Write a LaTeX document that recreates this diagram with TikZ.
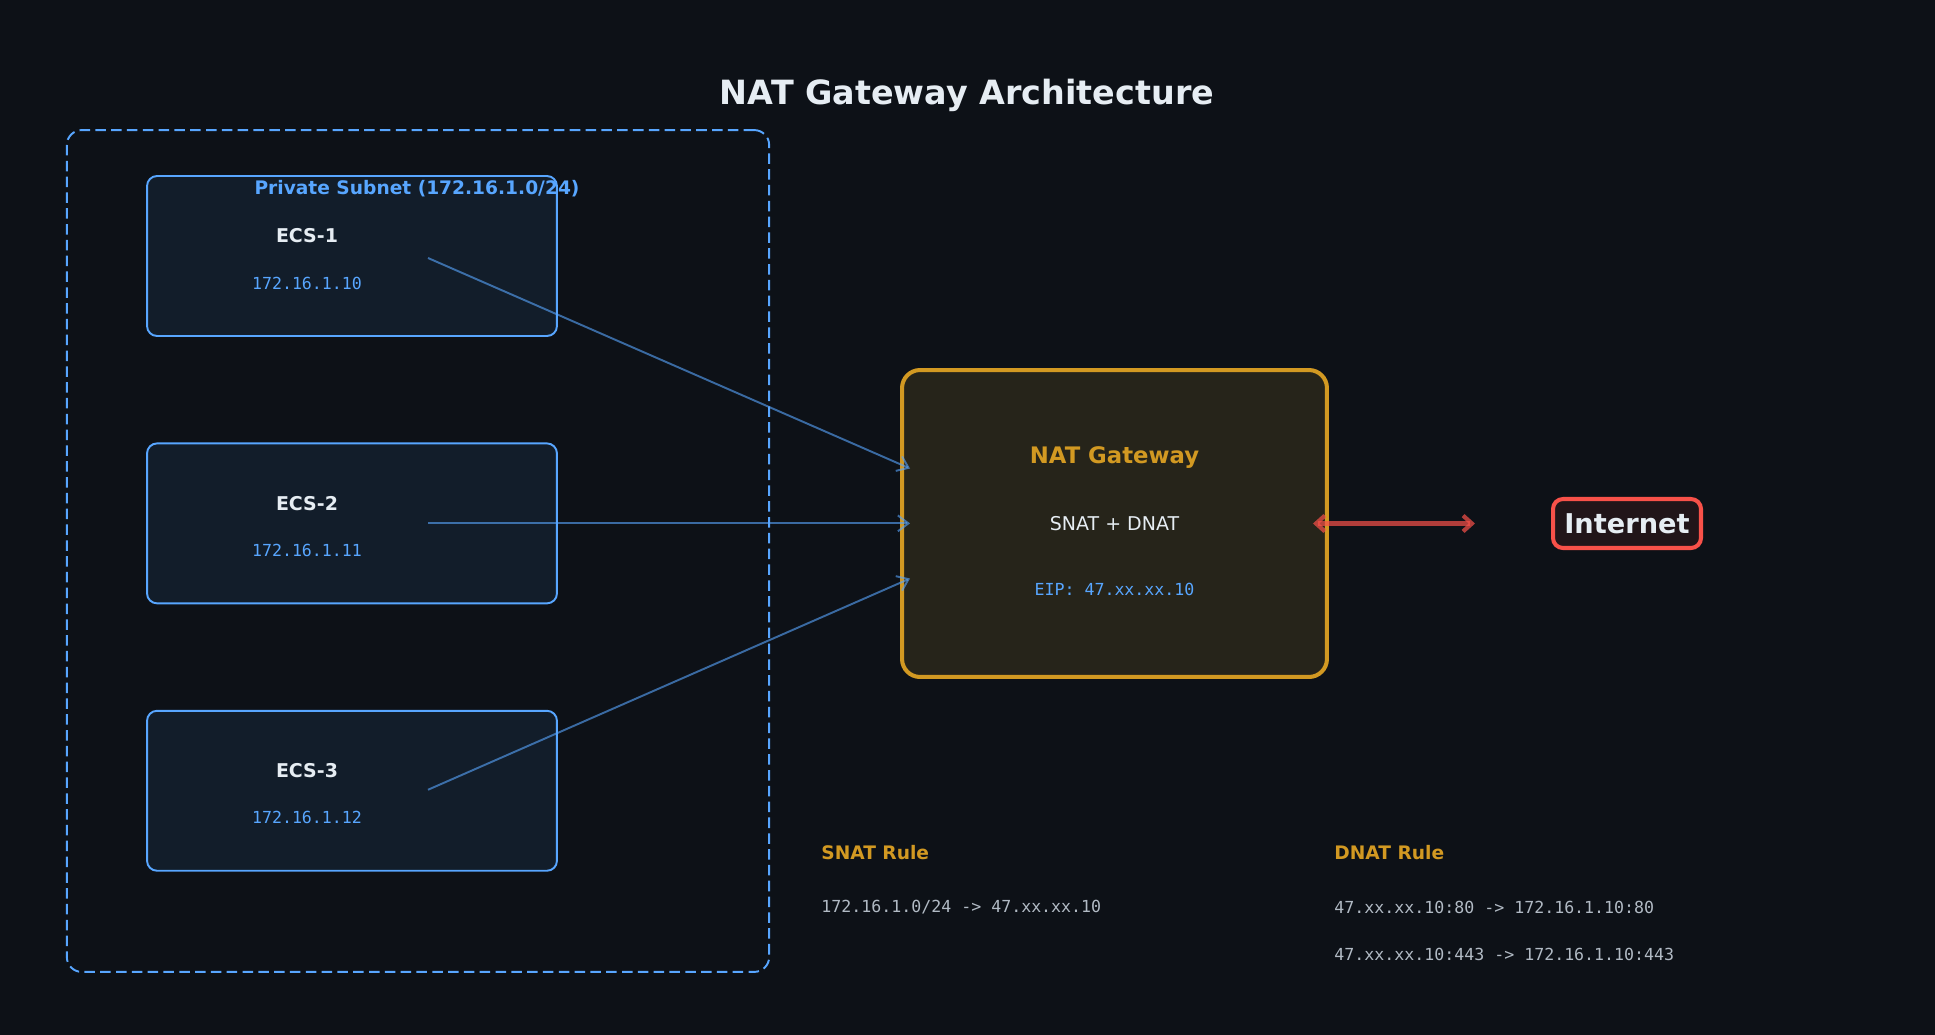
\documentclass[tikz,border=0pt]{standalone}
\usepackage{fontspec}
\setmainfont{DejaVu Sans}
\setmonofont{DejaVu Sans Mono}
\usepackage{tikz}
\usetikzlibrary{arrows.meta, positioning, calc}

\definecolor{bgdark}{HTML}{0D1117}
\definecolor{ecsfill}{HTML}{121D2A}
\definecolor{subblue}{HTML}{58A6FF}
\definecolor{natfill}{HTML}{26241A}
\definecolor{natorange}{HTML}{D29922}
\definecolor{netfill}{HTML}{211519}
\definecolor{netred}{HTML}{F85149}
\definecolor{txtwhite}{HTML}{E6EDF3}
\definecolor{txtgray}{HTML}{B1BAC4}

\begin{document}
\begin{tikzpicture}[
  x=0.02cm, y=-0.02cm,
  node distance=2.11cm,
  ecsbox/.style={draw=subblue, fill=ecsfill, line width=1.1pt, rounded corners=0.2cm, minimum width=8.2cm, minimum height=3.2cm, inner sep=0pt},
  ecsname/.style={text=txtwhite, font=\bfseries\fontsize{10.8}{13}\selectfont},
  ipaddr/.style={text=subblue, font=\ttfamily\fontsize{9.45}{12}\selectfont},
  rulehead/.style={text=natorange, anchor=west, inner xsep=0pt, font=\bfseries\fontsize{10.6}{13}\selectfont},
  ruletext/.style={text=txtgray, anchor=west, inner xsep=0pt, font=\ttfamily\fontsize{9.45}{12}\selectfont},
  arrow/.style={-{Straight Barb[length=6pt, width=9pt]}, line width=1.1pt, draw=subblue, draw opacity=0.6},
  netarrow/.style={{Straight Barb[length=5pt, width=9pt]}-{Straight Barb[length=5pt, width=9pt]}, line width=2.4pt, draw=netred, draw opacity=0.7}
]
  \fill[bgdark] (0,0) rectangle (1935,1035);
  \useasboundingbox (0,0) rectangle (1935,1035);

  \node[text=txtwhite, font=\bfseries\fontsize{19}{24}\selectfont] (title) at (967,95) {NAT Gateway Architecture};

  % private subnet
  \node[draw=subblue, dashed, dash pattern=on 6pt off 3pt, line width=1.1pt, rounded corners=0.3cm,
        minimum width=14.05cm, minimum height=16.84cm] (subnet) at (418,551) {};

  \node[ecsbox] (ecs1) at (352,256) {};
  \node[ecsbox] (ecs2) [below=of ecs1] {};
  \node[ecsbox] (ecs3) [below=of ecs2] {};

  \node[ecsname] (n1) at ($(ecs1.center)+(-45,-20)$) {ECS-1};
  \node[ipaddr]  (ip1) at ($(ecs1.center)+(-45,27)$) {172.16.1.10};
  \node[ecsname] (n2) at ($(ecs2.center)+(-45,-20)$) {ECS-2};
  \node[ipaddr]  (ip2) at ($(ecs2.center)+(-45,27)$) {172.16.1.11};
  \node[ecsname] (n3) at ($(ecs3.center)+(-45,-20)$) {ECS-3};
  \node[ipaddr]  (ip3) at ($(ecs3.center)+(-45,27)$) {172.16.1.12};

  \node[text=subblue, font=\bfseries\fontsize{10.6}{13}\selectfont] (sublabel) at (417,189) {Private Subnet (172.16.1.0/24)};

  % gateway and internet
  \node[draw=natorange, fill=natfill, line width=2.3pt, rounded corners=0.36cm,
        minimum width=8.5cm, minimum height=6.14cm] (nat) at (1114.5,523.5) {};
  \node[text=natorange, font=\bfseries\fontsize{12.95}{16}\selectfont] (natname) at ($(nat.center)+(0,-66)$) {NAT Gateway};
  \node[text=txtwhite, font=\fontsize{10.8}{14}\selectfont] (natmode) at (nat.center) {SNAT + DNAT};
  \node[ipaddr] (eip) at ($(nat.center)+(0,66)$) {EIP: 47.xx.xx.10};

  \node[draw=netred, fill=netfill, line width=2.3pt, rounded corners=0.2cm,
        minimum width=2.96cm, minimum height=0.98cm, inner sep=0pt,
        text=txtwhite, font=\bfseries\fontsize{15.5}{18}\selectfont] (net) at (1627,523.5) {Internet};

  \coordinate (o1) at ($(ecs1.center)+(76,2)$);
  \coordinate (o2) at ($(ecs2.center)+(76,0)$);
  \coordinate (o3) at ($(ecs3.center)+(76,-1)$);
  \coordinate (i1) at ($(nat.west)+(10,-55)$);
  \coordinate (i2) at ($(nat.west |- o2)+(10,0)$);
  \coordinate (i3) at ($(nat.west)+(10,55)$);
  \coordinate (gwout) at ($(nat.east)+(-16,0)$);
  \coordinate (netin) at ($(net.west)+(-76,0)$);

  \draw[arrow] (o1) -- (i1);
  \draw[arrow] (o2) -- (i2);
  \draw[arrow] (o3) -- (i3);
  \draw[netarrow] (gwout) -- (netin);

  % rule tables
  \node[rulehead] (snathead) at (821,853) {SNAT Rule};
  \node[ruletext] (snat1) at (821,907) {172.16.1.0/24 -> 47.xx.xx.10};
  \node[rulehead] (dnathead) at (1334,853) {DNAT Rule};
  \node[ruletext] (dnat1) at (1334,907) {47.xx.xx.10:80 -> 172.16.1.10:80};
  \node[ruletext] (dnat2) at (1334,954) {47.xx.xx.10:443 -> 172.16.1.10:443};
\end{tikzpicture}
\end{document}
